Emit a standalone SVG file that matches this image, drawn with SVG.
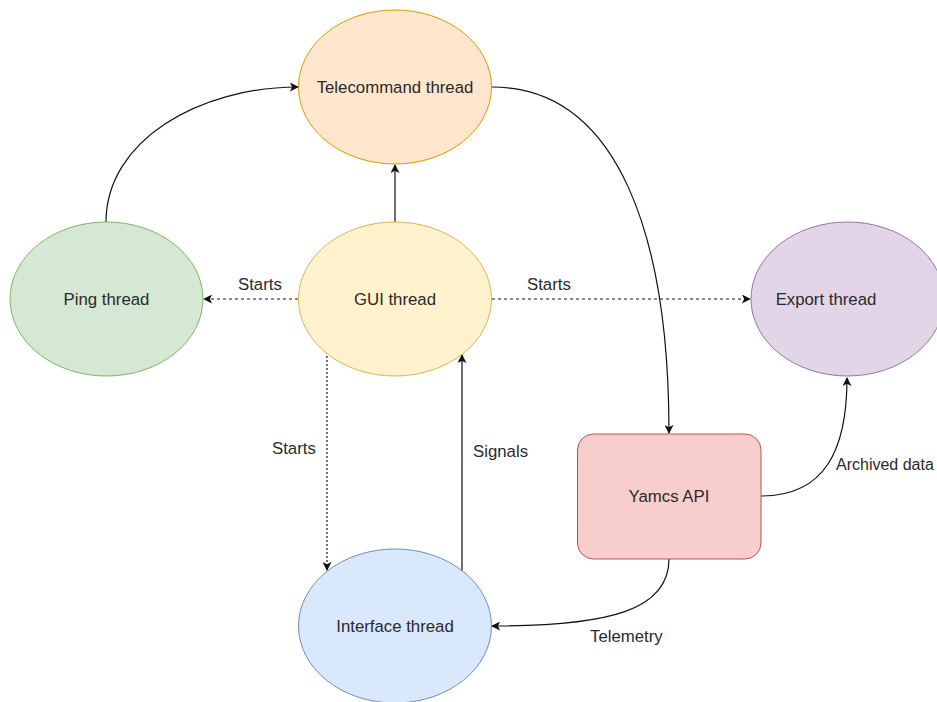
<svg xmlns="http://www.w3.org/2000/svg" width="937" height="702" viewBox="0 0 937 702">
  <defs>
    <marker id="arrow" viewBox="0 0 10 10" refX="9" refY="5" markerWidth="9" markerHeight="9" markerUnits="userSpaceOnUse" orient="auto">
      <path d="M0,0 L10,5 L0,10 L2.5,5 Z" fill="#111"/>
    </marker>
  </defs>
  <style>
    .node text { font-family: "Liberation Sans", Arial, sans-serif; font-size: 16.8px; fill: #2a2a2a; text-anchor: middle; dominant-baseline: central; }
    .label { font-family: "Liberation Sans", Arial, sans-serif; font-size: 16.8px; fill: #2a2a2a; }
    .label.small { font-size: 16px; }
    .edge { fill: none; stroke: #111; stroke-width: 1.2; marker-end: url(#arrow); }
    .dashed { stroke-dasharray: 3 3; }
    .dotted { stroke-dasharray: 2 2; stroke: #444; stroke-width: 1.5; }
  </style>
  <rect width="937" height="702" fill="#ffffff"/>

  <!-- connectors -->
  <g id="connectors">
    <path class="edge" d="M106,222 C106,140 200,87 298,87"/>
    <path class="edge" d="M395,222 L395,165"/>
    <path class="edge dashed" d="M298,299 L204,299"/>
    <path class="edge dashed" d="M492,299 L750,299"/>
    <path class="edge dotted" d="M327,352 L327,570"/>
    <path class="edge" d="M462,572 L462,355"/>
    <path class="edge" d="M492,87 C620,87 669,240 669,433"/>
    <path class="edge" d="M761,496 C825,496 847,450 847,378"/>
    <path class="edge" d="M669,559 C669,610 610,626 492,626"/>
    <text class="label" x="238" y="290">Starts</text>
    <text class="label" x="527" y="290">Starts</text>
    <text class="label" x="272" y="454">Starts</text>
    <text class="label" x="473" y="457">Signals</text>
    <text class="label small" x="836" y="470">Archived data</text>
    <text class="label" x="590" y="642">Telemetry</text>
  </g>

  <g id="telecommand" class="node">
    <ellipse cx="395" cy="87" rx="96.5" ry="77" fill="#ffe6cc" stroke="#d79b00"/>
    <text x="395" y="87">Telecommand thread</text>
  </g>
  <g id="ping" class="node">
    <ellipse cx="106.5" cy="299" rx="96.5" ry="77" fill="#d5e8d4" stroke="#82b366"/>
    <text x="106.5" y="299">Ping thread</text>
  </g>
  <g id="gui" class="node">
    <ellipse cx="395" cy="299" rx="96.5" ry="77" fill="#fff2cc" stroke="#d6b656"/>
    <text x="395" y="299">GUI thread</text>
  </g>
  <g id="export" class="node">
    <ellipse cx="847.5" cy="299" rx="96.5" ry="77" fill="#e1d5e7" stroke="#9673a6"/>
    <text x="826" y="299">Export thread</text>
  </g>
  <g id="yamcs" class="node">
    <rect x="577.5" y="434" width="183.5" height="125" rx="16" ry="16" fill="#f8cecc" stroke="#b85450"/>
    <text x="669" y="496">Yamcs API</text>
  </g>
  <g id="interface" class="node">
    <ellipse cx="395" cy="626" rx="96.5" ry="77" fill="#dae8fc" stroke="#6c8ebf"/>
    <text x="395" y="626">Interface thread</text>
  </g>
</svg>
